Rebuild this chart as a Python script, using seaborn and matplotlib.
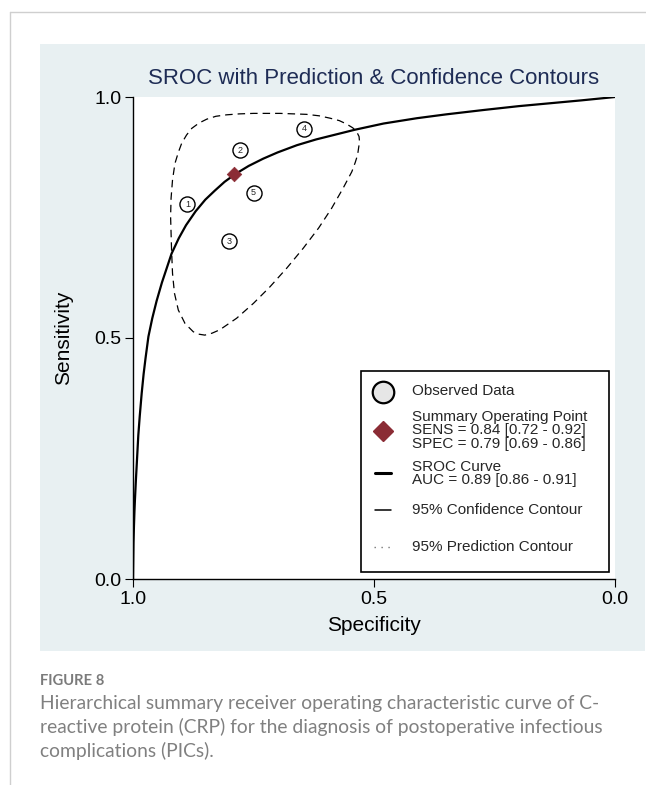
import numpy as np
import pandas as pd
import matplotlib
matplotlib.use("Agg")
import matplotlib.pyplot as plt
import seaborn as sns
from matplotlib.patches import Rectangle
from matplotlib.lines import Line2D

# ---- study-level data (specificity, sensitivity) ----
study_ids = [1, 2, 3, 4, 5]
study_spec = [0.887, 0.778, 0.801, 0.645, 0.750]
study_sens = [0.778, 0.890, 0.701, 0.934, 0.801]

# ---- summary operating point ----
summary_spec = 0.79
summary_sens = 0.84
summary_sens_ci = (0.72, 0.92)
summary_spec_ci = (0.69, 0.86)
auc = 0.89
auc_ci = (0.86, 0.91)

# ---- SROC curve (false positive rate, sensitivity) ----
sroc_fpr = [0.000, 0.001, 0.002, 0.003, 0.004, 0.006, 0.008, 0.011, 0.014,
            0.018, 0.022, 0.026, 0.032, 0.040, 0.049, 0.060, 0.070, 0.080,
            0.095, 0.110, 0.130, 0.150, 0.170, 0.190, 0.212, 0.240, 0.270,
            0.300, 0.340, 0.380, 0.420, 0.460, 0.520, 0.589, 0.650, 0.727,
            0.800, 0.865, 0.930, 1.000]
sroc_sens = [0.000, 0.075, 0.110, 0.140, 0.164, 0.205, 0.242, 0.298, 0.338,
             0.385, 0.425, 0.458, 0.503, 0.541, 0.577, 0.615, 0.645, 0.675,
             0.707, 0.734, 0.763, 0.787, 0.806, 0.824, 0.840, 0.857, 0.872,
             0.885, 0.900, 0.912, 0.922, 0.932, 0.945, 0.956, 0.964, 0.973,
             0.981, 0.987, 0.993, 1.000]

# ---- 95% contour around the summary point ----
contour_spec = [0.920, 0.922, 0.921, 0.918, 0.913, 0.906, 0.899, 0.889, 0.878,
                0.863, 0.847, 0.828, 0.806, 0.779, 0.750, 0.722, 0.695, 0.667,
                0.640, 0.614, 0.591, 0.572, 0.557, 0.544, 0.536, 0.531, 0.530,
                0.532, 0.534, 0.539, 0.546, 0.564, 0.588, 0.615, 0.647, 0.681,
                0.716, 0.750, 0.785, 0.820, 0.836, 0.851, 0.864, 0.875, 0.892,
                0.906, 0.914, 0.918]
contour_sens = [0.683, 0.752, 0.790, 0.828, 0.862, 0.885, 0.904, 0.921, 0.935,
                0.946, 0.954, 0.960, 0.963, 0.965, 0.966, 0.966, 0.966, 0.965,
                0.964, 0.961, 0.956, 0.951, 0.944, 0.936, 0.928, 0.918, 0.907,
                0.894, 0.880, 0.864, 0.845, 0.811, 0.769, 0.728, 0.686, 0.645,
                0.606, 0.572, 0.541, 0.517, 0.510, 0.506, 0.508, 0.513, 0.530,
                0.558, 0.593, 0.634]

axis_ticks = [0.0, 0.5, 1.0]
axis_tick_labels = ["0.0", "0.5", "1.0"]

title = "SROC with Prediction & Confidence Contours"
caption_head = "FIGURE 8"
caption_lines = [
    "Hierarchical summary receiver operating characteristic curve of C-",
    "reactive protein (CRP) for the diagnosis of postoperative infectious",
    "complications (PICs).",
]

W, H = 646, 785
sns.set_theme(style="white")
plt.rcParams["font.family"] = ["Liberation Sans", "DejaVu Sans"]

fig = plt.figure(figsize=(W / 100, H / 100), dpi=100)
fig.patch.set_facecolor("white")

# page frame
fig.add_artist(Line2D([9.5 / W, 1], [1 - 11.5 / H] * 2, color="#cfcfcf", lw=1))
fig.add_artist(Line2D([9.5 / W] * 2, [0, 1 - 11.5 / H], color="#cfcfcf", lw=1))
# figure panel background
fig.add_artist(Rectangle((40 / W, 1 - 651 / H), (W - 41) / W, 607 / H,
                         facecolor="#e8f0f2", edgecolor="none",
                         transform=fig.transFigure, zorder=-1))

ax = fig.add_axes([133 / W, 1 - 579 / H, 482 / W, 482 / H])
ax.set_facecolor("white")

curve = pd.DataFrame({"spec": 1 - np.array(sroc_fpr), "sens": sroc_sens})
sns.lineplot(data=curve, x="spec", y="sens", sort=False, estimator=None,
             color="black", lw=1.6, ax=ax, zorder=3)

contour = pd.DataFrame({"spec": contour_spec + contour_spec[:1],
                        "sens": contour_sens + contour_sens[:1]})
sns.lineplot(data=contour, x="spec", y="sens", sort=False, estimator=None,
             color="black", lw=0.9, linestyle=(0, (6, 4)), ax=ax, zorder=3)

studies = pd.DataFrame({"id": study_ids, "spec": study_spec, "sens": study_sens})
sns.scatterplot(data=studies, x="spec", y="sens", s=118, marker="o",
                color="white", edgecolor="black", linewidth=1.0, ax=ax, zorder=4)
for r in studies.itertuples():
    ax.text(r.spec, r.sens, str(r.id), ha="center", va="center",
            fontsize=6.5, zorder=5)

sns.scatterplot(x=[summary_spec], y=[summary_sens], marker="D", s=55,
                color="#8b2c35", edgecolor="#8b2c35", linewidth=0.5,
                ax=ax, zorder=5)

ax.set_xlim(1, 0)
ax.set_ylim(0, 1)
ax.set_xticks(axis_ticks)
ax.set_xticklabels(axis_tick_labels)
ax.set_yticks(axis_ticks)
ax.set_yticklabels(axis_tick_labels)
ax.tick_params(axis="both", which="both", bottom=True, left=True,
               direction="out", length=5.5, width=0.8, color="black",
               labelsize=14, pad=3, labelcolor="black")
for side in ("top", "right"):
    ax.spines[side].set_visible(False)
for side in ("left", "bottom"):
    ax.spines[side].set_color("black")
    ax.spines[side].set_linewidth(1.0)

ax.set_title(title, fontsize=16, color="#1e2c55", pad=9)
ax.set_xlabel("Specificity", fontsize=15, color="black")
ax.set_ylabel("Sensitivity", fontsize=15, color="black")
ax.yaxis.set_label_coords(-0.124, 0.5)
ax.xaxis.set_label_coords(0.5, -0.077)

# ---- legend box ----
tA = ax.transAxes
ax.add_patch(Rectangle((0.473, 0.0145), 0.515, 0.417, transform=tA,
                       facecolor="white", edgecolor="black", lw=1.2,
                       zorder=6, clip_on=False))
key_x = 0.519
txt_x = 0.579
leg_fs = 11
summary_label = ("Summary Operating Point\n"
                 f"SENS = {summary_sens:.2f} [{summary_sens_ci[0]:.2f} - {summary_sens_ci[1]:.2f}]\n"
                 f"SPEC = {summary_spec:.2f} [{summary_spec_ci[0]:.2f} - {summary_spec_ci[1]:.2f}]")
sroc_label = f"SROC Curve\nAUC = {auc:.2f} [{auc_ci[0]:.2f} - {auc_ci[1]:.2f}]"
entries = [
    (0.390, "Observed Data"),
    (0.309, summary_label),
    (0.219, sroc_label),
    (0.143, "95% Confidence Contour"),
    (0.067, "95% Prediction Contour"),
]
for y, lab in entries:
    ax.text(txt_x, y, lab, transform=tA, ha="left", va="center",
            fontsize=leg_fs, linespacing=0.95, zorder=7)

ax.plot([key_x], [0.389], marker="o", ms=15.5, mfc="#e6e6e6", mec="black",
        mew=1.6, transform=tA, clip_on=False, zorder=7)
ax.plot([key_x], [0.308], marker="D", ms=10.5, mfc="#8b2c35", mec="#8b2c35",
        transform=tA, clip_on=False, zorder=7)
ax.plot([key_x - 0.017, key_x + 0.017], [0.220, 0.220], color="black", lw=2.2,
        transform=tA, clip_on=False, zorder=7)
ax.plot([key_x - 0.017, key_x + 0.017], [0.143, 0.143], color="black", lw=1.1,
        transform=tA, clip_on=False, zorder=7)
ax.plot([key_x - 0.019, key_x + 0.017], [0.067, 0.067], color="#777777", lw=1.0,
        linestyle=(0, (1, 4)), transform=tA, clip_on=False, zorder=7)

# ---- caption ----
fig.text(40 / W, 1 - 685 / H, caption_head, fontsize=10.6, weight="bold",
         color="#7b7b7b", family=["Lato", "DejaVu Sans"], va="baseline")
for i, line in enumerate(caption_lines):
    fig.text(40 / W, 1 - (709 + 24 * i) / H, line, fontsize=13.9,
             color="#808080", family=["Lato", "DejaVu Sans"], va="baseline")

fig.savefig("out.png", dpi=100)
